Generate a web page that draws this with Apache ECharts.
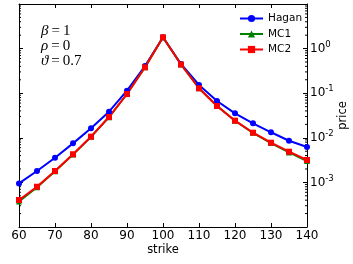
<!DOCTYPE html>
<html><head><meta charset="utf-8">
<script src="https://cdn.jsdelivr.net/npm/echarts@6/dist/echarts.min.js"></script>
<style>html,body{margin:0;padding:0;background:#fff}#c{width:353px;height:264px}</style>
</head><body><div id="c"></div>
<script>
const strikes = [60,65,70,75,80,85,90,95,100,105,110,115,120,125,130,135,140];
const hagan = [9.5e-4,1.8e-3,3.58e-3,7.5e-3,1.63e-2,3.85e-2,0.114,0.407,1.79,0.452,0.153,0.0668,0.0354,0.0211,0.0133,0.0086,0.0062];
const mc1 = [3.75e-4,7.8e-4,1.78e-3,4.2e-3,0.0105,0.0290,0.096,0.381,1.79,0.44,0.129,0.0515,0.0241,0.0129,0.0076,0.0047,0.0030];
const mc2 = [4.03e-4,8.0e-4,1.8e-3,4.27e-3,0.0106,0.0292,0.096,0.381,1.79,0.44,0.129,0.0516,0.0242,0.0130,0.00776,0.00488,0.00318];
const seriesNames = ['Hagan','MC1','MC2'];
const minorTickValues = [];
for (let n = -4; n <= 0; n++) for (let m = 2; m <= 9; m++) minorTickValues.push(m * Math.pow(10, n));

const font = 'DejaVu Sans';
const pair = (ys) => strikes.map((s, i) => [s, ys[i]]);
const chart = echarts.init(document.getElementById('c'), null, {renderer: 'canvas'});
const sup = {
  b: {fontFamily: font, fontSize: 12, color: '#000'},
  s: {fontFamily: font, fontSize: 8.5, color: '#000', padding: [0, 0, 8, 0]}
};
const ann = {i: {fontFamily: 'Liberation Serif', fontStyle: 'italic', fontSize: 15, color: '#000'}, n: {fontFamily: 'Liberation Serif', fontSize: 15, color: '#000'}};
chart.setOption({
  animation: false,
  grid: {left: 19, right: 46, top: 4, bottom: 37, outerBoundsMode: 'none', containLabel: false},
  legend: {
    data: seriesNames, orient: 'vertical', left: 234, top: 8,
    itemWidth: 23, itemHeight: 9, itemGap: 4.5,
    textStyle: {fontFamily: font, fontSize: 10.5, color: '#000'}
  },
  graphic: [
    {type: 'text', left: 41, top: 24, style: {rich: ann, text: '{i|β}{n|\u2009=\u20091}'}},
    {type: 'text', left: 41, top: 39, style: {rich: ann, text: '{i|ρ}{n|\u2009=\u20090}'}},
    {type: 'text', left: 41, top: 54, style: {rich: ann, text: '{i|ϑ}{n|\u2009=\u20090.7}'}}
  ],
  xAxis: [
    {type: 'value', min: 60, max: 140, interval: 10, position: 'bottom',
     name: 'strike', nameLocation: 'middle', nameGap: 17, nameMoveOverlap: false,
     nameTextStyle: {fontFamily: font, fontSize: 11.5, color: '#000'},
     axisLine: {lineStyle: {color: '#000', width: 1}},
     axisTick: {inside: true, length: 4, lineStyle: {color: '#000'}},
     axisLabel: {fontFamily: font, fontSize: 12, color: '#000', margin: 3},
     splitLine: {show: false}},
    {type: 'value', min: 60, max: 140, interval: 10, position: 'top',
     axisLine: {lineStyle: {color: '#000', width: 1}},
     axisTick: {inside: true, length: 4, lineStyle: {color: '#000'}},
     axisLabel: {show: false}, splitLine: {show: false}}
  ],
  yAxis: [
    {type: 'log', logBase: 10, min: 1e-4, max: 10, position: 'right',
     name: 'price', nameLocation: 'middle', nameGap: 30, nameRotate: 90, nameMoveOverlap: false,
     nameTextStyle: {fontFamily: font, fontSize: 11.5, color: '#000', padding: [0, 0, 0, 0]},
     axisLine: {show: true, lineStyle: {color: '#000', width: 1}},
     axisTick: {inside: true, length: 4, lineStyle: {color: '#000'}},
     axisLabel: {showMinLabel: false, showMaxLabel: false, margin: 3,
       formatter: (v) => '{b|10}{s|' + Math.round(Math.log10(v)) + '}', rich: sup},
     splitLine: {show: false}},
    {type: 'log', logBase: 10, min: 1e-4, max: 10, position: 'left',
     axisLine: {show: true, lineStyle: {color: '#000', width: 1}},
     axisTick: {inside: true, length: 4, lineStyle: {color: '#000'}},
     axisLabel: {show: false}, splitLine: {show: false}}
  ],
  series: [
    {name: 'Hagan', type: 'line', data: pair(hagan), color: '#0000ff',
     symbol: 'circle', symbolSize: 6, lineStyle: {width: 2}, itemStyle: {color: '#0000ff'}},
    {name: 'MC1', type: 'line', data: pair(mc1), color: '#008000',
     symbol: 'triangle', symbolSize: 6, lineStyle: {width: 2}, itemStyle: {color: '#008000'}},
    {name: 'MC2', type: 'line', data: pair(mc2), color: '#ff0000',
     symbol: 'rect', symbolSize: 6, lineStyle: {width: 2}, itemStyle: {color: '#ff0000'}},
    {name: 'minorTicks', type: 'custom', data: minorTickValues.map(v => [60, v]), silent: true, clip: false,
     renderItem: (params, api) => {
       const v = api.value(1);
       const l = api.coord([60, v]);
       const r = api.coord([140, v]);
       return {type: 'group', children: [
         {type: 'line', shape: {x1: l[0], y1: l[1], x2: l[0] + 2, y2: l[1]}, style: {stroke: '#000', lineWidth: 1}},
         {type: 'line', shape: {x1: r[0], y1: r[1], x2: r[0] - 2, y2: r[1]}, style: {stroke: '#000', lineWidth: 1}}
       ]};
     }}
  ]
});
</script></body></html>
